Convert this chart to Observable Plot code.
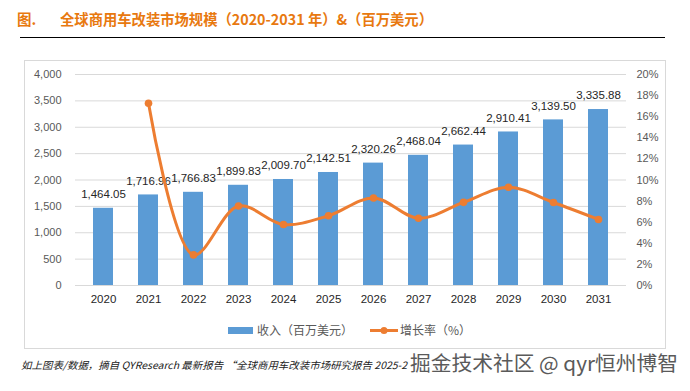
<!DOCTYPE html>
<html>
<head>
<meta charset="utf-8">
<script src="https://cdn.jsdelivr.net/npm/d3@7"></script>
<script src="https://cdn.jsdelivr.net/npm/@observablehq/plot@0.6"></script>
<style>
  html, body { margin: 0; padding: 0; background: #fff; }
  #wrap { position: relative; width: 690px; height: 391px; overflow: hidden;
    font-family: "Liberation Sans", "Noto Sans CJK SC", sans-serif; }
  #wrap > svg { position: absolute; left: 0; top: 0; }
  .abs { position: absolute; white-space: nowrap; }
  #fig { left: 17px; top: 8px; font-family: "Noto Sans CJK SC", sans-serif; font-weight: bold;
    font-size: 14.5px; color: #E8790F; }
  #title { left: 60px; top: 8px; font-family: "Noto Sans CJK SC", sans-serif; font-weight: bold;
    font-size: 14.5px; color: #E8790F; transform-origin: 0 50%; }
  #rule { left: 20px; top: 37px; width: 645px; height: 1px; background: #000; }
  #frame { left: 24px; top: 60px; width: 640px; height: 287px; border: 1px solid #d9d9d9; }
  #legend { left: 228px; top: 320px; }
  #caption { left: 21px; top: 357px; font-family: "Noto Sans CJK SC", sans-serif; font-style: italic;
    font-size: 10px; color: #222; transform-origin: 0 50%; }
  #wm { left: 410px; top: 348px; font-family: "Noto Sans CJK SC", sans-serif; font-size: 20px; color: #5a5a5a;
    transform-origin: 0 50%; }
</style>
</head>
<body>
<div id="wrap">
  <div class="abs" id="frame"></div>
  <div class="abs" id="fig">图.</div>
  <div class="abs" id="title">全球商用车改装市场规模（2020-2031 年）&amp;（百万美元）</div>
  <div class="abs" id="rule"></div>
  <div class="abs" id="legend"></div>
  <div class="abs" id="caption">如上图表/数据，摘自 QYResearch 最新报告 “全球商用车改装市场研究报告 2025-2</div>
  <div class="abs" id="wm">掘金技术社区 @ qyr恒州博智</div>
</div>
<script>
const years = ["2020","2021","2022","2023","2024","2025","2026","2027","2028","2029","2030","2031"];
const revenue = [1464.05, 1716.96, 1766.83, 1899.83, 2009.70, 2142.51, 2320.26, 2468.04, 2662.44, 2910.41, 3139.50, 3335.88];
const growth = [null, 17.27, 2.90, 7.53, 5.78, 6.61, 8.30, 6.37, 7.88, 9.31, 7.87, 6.26];
const leftTicks = [0, 500, 1000, 1500, 2000, 2500, 3000, 3500, 4000];
const rightTicks = [0, 2, 4, 6, 8, 10, 12, 14, 16, 18, 20];
const seriesNames = ["收入（百万美元）", "增长率（%）"];
const colors = ["#5B9BD5", "#ED7D31"];

const k = 4000 / 20;
const data = years.map((y, i) => ({year: y, revenue: revenue[i], growth: growth[i]}));
const gdata = data.filter(d => d.growth != null);

const chart = Plot.plot({
  width: 690, height: 391,
  marginTop: 74, marginBottom: 106, marginLeft: 75, marginRight: 64,
  style: {fontFamily: "'Liberation Sans', 'Noto Sans CJK SC', sans-serif", fontSize: "11px", background: "transparent", color: "#595959"},
  x: {domain: years, paddingInner: 0.56, paddingOuter: 0.28, label: null},
  y: {domain: [0, 4000], label: null},
  marks: [
    Plot.gridY({ticks: leftTicks, stroke: "#d9d9d9", strokeOpacity: 1}),
    Plot.axisY({ticks: leftTicks, tickFormat: d3.format(","), tickSize: 0, tickPadding: 14, fill: "#595959", fontSize: 11, label: null}),
    Plot.axisY({anchor: "right", ticks: rightTicks.map(t => t * k), tickFormat: d => (d / k) + "%", tickSize: 0, tickPadding: 10, fill: "#595959", fontSize: 11, label: null}),
    Plot.axisX({tickSize: 0, tickPadding: 9, fill: "#262626", fontSize: 11.5, label: null}),
    Plot.barY(data, {x: "year", y: "revenue", fill: colors[0]}),
    Plot.text(data, {x: "year", y: "revenue", text: d => d3.format(",.2f")(d.revenue), dy: -14, fill: "#262626", fontSize: 11.5}),
    Plot.line(gdata, {x: "year", y: d => d.growth * k, stroke: colors[1], strokeWidth: 3, curve: "catmull-rom"}),
    Plot.dot(gdata, {x: "year", y: d => d.growth * k, r: 3.8, fill: colors[1], stroke: "none"})
  ]
});
document.getElementById("wrap").insertBefore(chart, document.getElementById("fig"));

// legend
const lg = document.getElementById("legend");
lg.innerHTML = `
<svg width="250" height="20" style="position:absolute;left:0;top:0;overflow:visible">
  <rect x="0" y="7" width="25" height="7" fill="${colors[0]}"></rect>
  <text x="29" y="15" font-size="12" fill="#595959" font-family="Noto Sans CJK SC">${seriesNames[0]}</text>
  <line x1="142" x2="170" y1="10.5" y2="10.5" stroke="${colors[1]}" stroke-width="3"></line>
  <circle cx="156" cy="10.5" r="3.5" fill="${colors[1]}"></circle>
  <text x="172" y="15" font-size="12" fill="#595959" font-family="Noto Sans CJK SC">${seriesNames[1]}</text>
</svg>`;

// fit texts to measured reference widths
function fit(id, w) {
  const el = document.getElementById(id);
  const cur = el.getBoundingClientRect().width;
  if (cur > 0) el.style.transform = `scaleX(${w / cur})`;
}
fit("title", 373);
fit("caption", 386);
fit("wm", 268);
</script>
</body>
</html>
